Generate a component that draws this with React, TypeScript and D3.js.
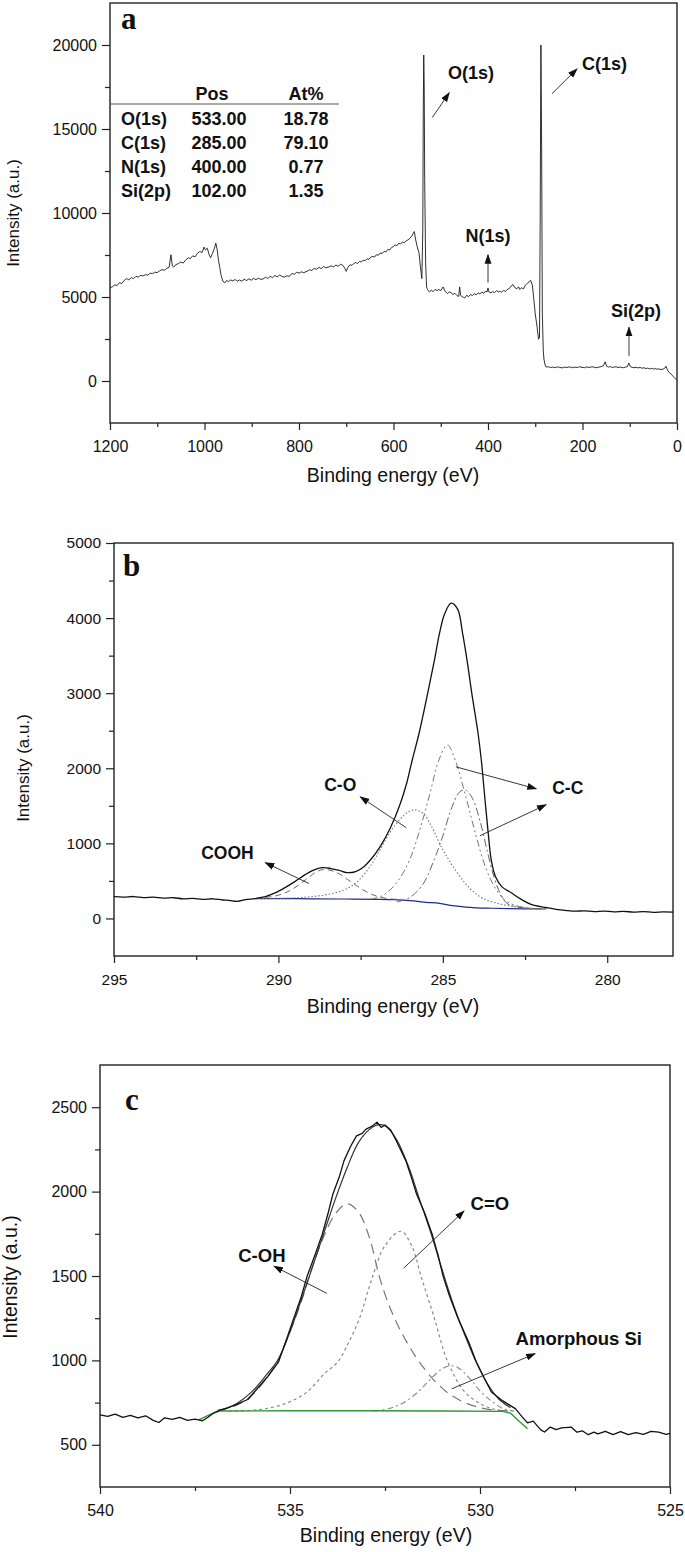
import { useRef, useEffect } from "react";
import * as d3 from "d3";

type Pt = [number, number];

// ---- panel a: survey spectrum (binding energy eV, intensity) ----
const surveyA: Pt[] = [
  [1200, 5540], [1195, 5610], [1190, 5720], [1185, 5680], [1180, 5850], [1175, 5800], [1170, 5990],
  [1165, 6095], [1160, 6020], [1155, 6150], [1150, 6090], [1145, 6230], [1140, 6180], [1135, 6290],
  [1130, 6250], [1125, 6330], [1120, 6300], [1115, 6420], [1110, 6390], [1105, 6480], [1100, 6450],
  [1095, 6560], [1090, 6627], [1085, 6590], [1080, 6700], [1075, 6760], [1071, 7515], [1068, 6850],
  [1065, 6780], [1061, 6923], [1055, 6990], [1050, 7080], [1045, 7020], [1040, 7200], [1034, 7337],
  [1030, 7280], [1025, 7450], [1020, 7390], [1015, 7600], [1010, 7700], [1005, 7650], [1001, 7970],
  [998, 7800], [994, 7900], [990, 7500], [987, 7337], [983, 7600], [979, 7900], [976, 8205],
  [973, 7800], [970, 7100], [968, 6822], [965, 6300], [961, 5936], [957, 5850], [953, 5990],
  [949, 5900], [945, 6020], [940, 5950], [935, 6050], [931, 5936], [926, 6010], [921, 5940],
  [916, 6060], [911, 5980], [906, 6080], [901, 6000], [896, 6110], [891, 6030], [886, 6120],
  [881, 6050], [876, 6075], [871, 6180], [866, 6100], [861, 6230], [856, 6150], [851, 6280],
  [846, 6200], [841, 6310], [836, 6220], [831, 6180], [826, 6260], [820, 6231], [815, 6400],
  [810, 6350], [805, 6470], [800, 6420], [795, 6500], [790, 6450], [783, 6527], [778, 6620],
  [773, 6580], [768, 6700], [763, 6650], [758, 6760], [753, 6690], [748, 6820], [743, 6740],
  [737, 6787], [732, 6860], [727, 6790], [722, 6900], [717, 6830], [712, 6950], [707, 6880],
  [703, 6700], [700, 6527], [697, 6750], [692, 6923], [688, 6880], [684, 7000], [680, 7050],
  [676, 6990], [672, 7120], [668, 7080], [664, 7200], [660, 7160], [656, 7280], [652, 7240],
  [648, 7380], [644, 7416], [640, 7380], [636, 7520], [632, 7480], [628, 7620], [624, 7580],
  [620, 7720], [616, 7680], [612, 7830], [608, 7800], [604, 7950], [600, 8000], [597, 8107],
  [593, 8050], [589, 8200], [585, 8150], [581, 8280], [577, 8230], [573, 8350], [569, 8403],
  [565, 8500], [561, 8650], [558, 8800], [556, 8895], [553, 8400], [550, 8000], [546, 7633],
  [543, 6800], [540, 6095], [538, 9000], [537, 16000], [536, 19400], [535, 17500], [534, 12000],
  [532, 7000], [530, 5600], [528, 5444], [524, 5300], [520, 5400], [516, 5320], [512, 5450],
  [508, 5380], [504, 5444], [500, 5380], [495, 5600], [491, 5350], [486, 5207], [482, 5300],
  [478, 5250], [474, 5150], [470, 5220], [466, 5100], [462, 5030], [460, 5600], [458, 5100],
  [455, 5030], [452, 4980], [449, 4950], [445, 5100], [441, 5020], [437, 5150], [433, 5080],
  [429, 5200], [425, 5130], [421, 5246], [417, 5180], [413, 5300], [409, 5220], [405, 5350],
  [402, 5300], [400, 5540], [398, 5300], [394, 5250], [390, 5320], [386, 5260], [382, 5380],
  [378, 5300], [375, 5345], [371, 5280], [367, 5400], [363, 5330], [359, 5450], [355, 5500],
  [351, 5650], [347, 5740], [343, 5550], [339, 5500], [335, 5600], [333, 5444], [329, 5550],
  [325, 5480], [321, 5700], [317, 5800], [313, 5900], [310, 5996], [306, 5700], [303, 4852],
  [300, 4000], [296, 3200], [293, 2485], [291, 2600], [289.5, 10000], [288, 20000], [286.5, 14000],
  [285, 4000], [283, 1800], [281.6, 1302], [279, 950], [277, 828], [272, 850], [268, 800],
  [263, 830], [258, 790], [253, 840], [248, 810], [243, 780], [238, 830], [233, 800], [228, 840],
  [226, 828], [221, 790], [216, 830], [211, 800], [206, 850], [201, 810], [196, 790], [191, 840],
  [186, 800], [180, 850], [175, 820], [170, 790], [165, 830], [160, 860], [156, 900], [152, 1142],
  [149, 880], [145, 830], [141, 860], [137, 800], [133, 828], [129, 850], [125, 800], [121, 830],
  [117, 810], [113, 790], [109, 830], [105, 850], [102, 1065], [99, 860], [95, 810], [91, 790],
  [87, 820], [83, 780], [78, 805], [74, 760], [70, 790], [66, 740], [62, 770], [58, 720],
  [54, 750], [50, 710], [46, 740], [42, 700], [38, 720], [34, 680], [30, 700], [26, 760],
  [23.4, 880], [20, 650], [16.6, 513], [12, 400], [8, 260], [4, 150], [0, 60],
];

const tableNames = ["O(1s)", "C(1s)", "N(1s)", "Si(2p)"];
const tablePos = ["533.00", "285.00", "400.00", "102.00"];
const tableAt = ["18.78", "79.10", "0.77", "1.35"];

// label, text anchor point, arrow start, arrow end (data units)
const labelsA = [
  { text: "O(1s)", anchor: "start", at: [484.7, 17990], from: [518, 15680], to: [482, 17160] },
  { text: "C(1s)", anchor: "start", at: [201, 18520], from: [264.6, 17100], to: [211.6, 18580] },
  { text: "N(1s)", anchor: "middle", at: [400, 8284], from: [400, 5860], to: [400, 7515] },
  { text: "Si(2p)", anchor: "middle", at: [86.8, 3787], from: [101.6, 1480], to: [101.6, 3195] },
];

// ---- panel b: C1s ----
const rawB: Pt[] = [
  [295, 290], [294.7, 285], [294.4, 292], [294.1, 278], [293.8, 284], [293.5, 270], [293.2, 276],
  [292.9, 262], [292.6, 268], [292.3, 255], [292, 262], [291.7, 246], [291.5, 240], [291.25, 228],
  [291, 250], [290.7, 265], [290.4, 290], [290.1, 340], [289.8, 410], [289.5, 490], [289.2, 580],
  [288.95, 640], [288.67, 677], [288.4, 665], [288.15, 640], [287.92, 610], [287.65, 625],
  [287.4, 690], [287.19, 785], [286.9, 960], [286.6, 1200], [286.3, 1520], [286.1, 1800],
  [285.93, 2110], [285.72, 2470], [285.46, 3000], [285.25, 3450], [285.1, 3800], [284.95, 4050],
  [284.75, 4200], [284.55, 4120], [284.4, 3800], [284.25, 3400], [284.12, 3000], [283.93, 2470],
  [283.83, 2110], [283.7, 1500], [283.6, 1050], [283.53, 785], [283.4, 560], [283.2, 420],
  [282.93, 345], [282.6, 250], [282.3, 185], [281.86, 146], [281.5, 118], [281.2, 105], [281, 97],
  [280.7, 102], [280.4, 92], [280.1, 98], [279.8, 88], [279.5, 95], [279.2, 84], [278.9, 91],
  [278.6, 82], [278.3, 88], [278, 84],
];
const bgB: Pt[] = [
  [290.7, 265], [290, 264], [289, 262], [288, 259], [287, 255], [286.5, 250], [286, 238],
  [285.5, 215], [285.1, 200], [284.7, 170], [284.3, 150], [284, 142], [283.5, 136], [283, 132],
  [282.5, 128], [281.86, 126],
];
const coohB: Pt[] = [
  [290.7, 266], [290.3, 285], [290, 310], [289.7, 360], [289.4, 440], [289.1, 540], [288.85, 620],
  [288.65, 650], [288.4, 640], [288.15, 595], [287.9, 520], [287.6, 430], [287.3, 350], [287, 295],
  [286.7, 265], [286.4, 255],
];
const coB: Pt[] = [
  [290.7, 265], [290, 268], [289.5, 275], [289, 290], [288.5, 320], [288, 380], [287.6, 490],
  [287.2, 700], [286.9, 920], [286.6, 1150], [286.3, 1320], [286.05, 1420], [285.86, 1447],
  [285.6, 1400], [285.35, 1230], [285, 916], [284.7, 700], [284.33, 474], [284, 330], [283.7, 250],
  [283.4, 208], [283, 170], [282.5, 140], [282, 128],
];
const cc1B: Pt[] = [
  [287.2, 258], [286.9, 290], [286.6, 380], [286.3, 540], [286, 790], [285.7, 1180], [285.4, 1650],
  [285.12, 2110], [284.86, 2310], [284.6, 2080], [284.3, 1620], [284, 1120], [283.7, 680],
  [283.4, 400], [283.1, 240], [282.8, 175], [282.4, 140], [282, 130],
];
const cc2B: Pt[] = [
  [286.4, 220], [286, 280], [285.6, 460], [285.26, 785], [285, 1100], [284.75, 1450], [284.5, 1680],
  [284.32, 1713], [284.1, 1600], [283.87, 1300], [283.65, 900], [283.45, 560], [283.25, 330],
  [283.05, 200], [282.7, 150], [282.3, 135], [282, 130],
];
const labelsB = [
  { text: "COOH", at: [291.55, 797], arrows: [[[289.07, 465], [290.4, 744]]] },
  { text: "C-O", at: [288.12, 1700], arrows: [[[286.11, 1208], [287.51, 1620]]] },
  {
    text: "C-C",
    at: [281.2, 1660],
    arrows: [
      [[284.6, 2019], [282.16, 1726]],
      [[283.87, 1102], [281.86, 1514]],
    ],
  },
];

// ---- panel c: O1s ----
const rawC: Pt[] = [
  [540, 677], [539.8, 668], [539.6, 682], [539.4, 662], [539.2, 675], [539, 660], [538.8, 672],
  [538.6, 645], [538.45, 632], [538.3, 660], [538.1, 650], [537.9, 662], [537.7, 645], [537.5, 652],
  [537.3, 642], [537.15, 665], [537, 690], [536.85, 705], [536.7, 714], [536.4, 740], [536.1, 770],
  [535.94, 813], [535.6, 900], [535.3, 992], [535.1, 1120], [534.9, 1250], [534.7, 1380],
  [534.55, 1498], [534.35, 1620], [534.15, 1748], [534, 1870], [533.87, 1986], [533.7, 2090],
  [533.58, 2182], [533.4, 2270], [533.25, 2330], [533.1, 2345], [533, 2370], [532.9, 2380],
  [532.8, 2395], [532.71, 2411], [532.6, 2380], [532.5, 2395], [532.35, 2365], [532.2, 2300],
  [531.95, 2182], [531.8, 2080], [531.67, 1986], [531.45, 1870], [531.26, 1748], [531.1, 1620],
  [530.97, 1498], [530.8, 1380], [530.58, 1250], [530.3, 1110], [530.1, 992], [529.9, 900],
  [529.7, 813], [529.4, 760], [529.07, 714], [528.9, 668], [528.75, 630], [528.6, 640],
  [528.4, 588], [528.3, 576], [528.15, 605], [528, 590], [527.85, 600], [527.6, 605], [527.45, 575],
  [527.3, 582], [527.15, 560], [527, 575], [526.9, 565], [526.7, 580], [526.5, 560], [526.3, 578],
  [526.1, 560], [525.9, 572], [525.7, 562], [525.5, 580], [525.3, 575], [525.1, 562], [525, 568],
];
const fitC: Pt[] = [
  [536.8, 705], [536.4, 745], [536, 815], [535.6, 920], [535.3, 1010], [535, 1170], [534.7, 1360],
  [534.4, 1560], [534.1, 1760], [533.8, 1960], [533.5, 2140], [533.2, 2290], [532.9, 2370],
  [532.7, 2395], [532.5, 2390], [532.2, 2310], [531.9, 2160], [531.6, 1960], [531.3, 1760],
  [531, 1540], [530.7, 1330], [530.4, 1150], [530.1, 990], [529.8, 860], [529.5, 770], [529.2, 720],
];
const bgC: Pt[] = [
  [537.4, 648], [537.1, 680], [536.85, 700], [535, 702], [533, 702], [531, 700], [529.4, 698],
  [529.2, 688], [529, 645], [528.75, 595],
];
const cohC: Pt[] = [
  [536.9, 705], [536.4, 735], [536, 795], [535.6, 900], [535.3, 1010], [535, 1170], [534.7, 1350],
  [534.4, 1560], [534.1, 1740], [533.8, 1870], [533.5, 1928], [533.2, 1880], [532.9, 1720],
  [532.65, 1498], [532.4, 1330], [532.1, 1180], [531.8, 1060], [531.6, 992], [531.2, 880],
  [530.8, 800], [530.4, 750], [530, 720], [529.6, 705], [529.2, 700],
];
const coC: Pt[] = [
  [536.6, 700], [536, 704], [535.5, 720], [535, 755], [534.55, 813], [534.1, 920], [533.74, 992],
  [533.45, 1110], [533.17, 1250], [532.85, 1480], [532.5, 1680], [532.08, 1765], [531.8, 1680],
  [531.55, 1498], [531.2, 1250], [530.85, 992], [530.4, 813], [530, 745], [529.7, 715], [529.4, 700],
];
const siC: Pt[] = [
  [532.8, 700], [532.4, 715], [532, 750], [531.6, 820], [531.3, 890], [531, 950], [530.8, 968],
  [530.6, 960], [530.3, 900], [530, 820], [529.7, 760], [529.4, 715], [529.1, 700],
];
const labelsC = [
  { text: "C-OH", at: [535.74, 1581], arrows: [[[534.03, 1397], [535.42, 1558]]] },
  { text: "C=O", at: [529.74, 1891], arrows: [[[532.01, 1546], [530.42, 1885]]] },
  { text: "Amorphous Si", at: [527.4, 1093], arrows: [[[530.74, 832], [528.55, 1040]]] },
];

const SANS = "'Liberation Sans', Arial, sans-serif";
const SERIF = "'Liberation Serif', 'Times New Roman', serif";

type Box = { l: number; r: number; t: number; b: number };

function makePanel(
  svg: d3.Selection<SVGSVGElement, unknown, null, undefined>,
  box: Box,
  xDom: [number, number],
  yDom: [number, number],
  xMajor: number[],
  xMinor: number[],
  yMajor: number[],
  yMinor: number[],
  tickFont: number
) {
  const x = d3.scaleLinear().domain(xDom).range([box.l, box.r]);
  const y = d3.scaleLinear().domain(yDom).range([box.b, box.t]);
  const g = svg.append("g");

  const style = (sel: d3.Selection<SVGGElement, unknown, null, undefined>) => {
    sel.select(".domain").remove();
    sel.selectAll("line").attr("stroke", "#222").attr("stroke-width", 1.2);
    sel.selectAll("text").attr("font-family", SANS).attr("font-size", tickFont).attr("fill", "#111");
  };

  g.append("g")
    .attr("transform", `translate(0,${box.b})`)
    .call(d3.axisBottom(x).tickValues(xMinor).tickSize(4).tickFormat(() => ""))
    .call(style);
  g.append("g")
    .attr("transform", `translate(0,${box.b})`)
    .call(d3.axisBottom(x).tickValues(xMajor).tickSize(7).tickPadding(11).tickFormat(d3.format("d")))
    .call(style);
  g.append("g")
    .attr("transform", `translate(${box.l},0)`)
    .call(d3.axisLeft(y).tickValues(yMinor).tickSize(5).tickFormat(() => ""))
    .call(style);
  g.append("g")
    .attr("transform", `translate(${box.l},0)`)
    .call(d3.axisLeft(y).tickValues(yMajor).tickSize(8).tickPadding(5).tickFormat(d3.format("d")))
    .call(style);

  g.append("rect")
    .attr("x", box.l)
    .attr("y", box.t)
    .attr("width", box.r - box.l)
    .attr("height", box.b - box.t)
    .attr("fill", "none")
    .attr("stroke", "#222")
    .attr("stroke-width", 1.4);

  const plot = g.append("g");
  return { x, y, g, plot };
}

export default function App() {
  const svgRef = useRef<SVGSVGElement>(null);

  useEffect(() => {
    const svg = d3.select(svgRef.current as SVGSVGElement);
    svg.selectAll("*").remove();

    const defs = svg.append("defs");
    defs
      .append("marker")
      .attr("id", "arr")
      .attr("viewBox", "0 0 10 8")
      .attr("refX", 9)
      .attr("refY", 4)
      .attr("markerWidth", 10)
      .attr("markerHeight", 8)
      .attr("markerUnits", "userSpaceOnUse")
      .attr("orient", "auto")
      .append("path")
      .attr("d", "M0,0.5 L10,4 L0,7.5 Z")
      .attr("fill", "#111");

    const addLine = (
      p: { x: d3.ScaleLinear<number, number>; y: d3.ScaleLinear<number, number>; plot: any },
      data: Pt[],
      stroke: string,
      width: number,
      dash: string | null,
      curve: d3.CurveFactory
    ) => {
      const line = d3
        .line<Pt>()
        .x((d) => p.x(d[0]))
        .y((d) => p.y(d[1]))
        .curve(curve);
      p.plot
        .append("path")
        .datum(data)
        .attr("d", line)
        .attr("fill", "none")
        .attr("stroke", stroke)
        .attr("stroke-width", width)
        .attr("stroke-dasharray", dash)
        .attr("stroke-linejoin", "round");
    };

    const addArrow = (p: any, from: number[], to: number[]) => {
      p.plot
        .append("line")
        .attr("x1", p.x(from[0]))
        .attr("y1", p.y(from[1]))
        .attr("x2", p.x(to[0]))
        .attr("y2", p.y(to[1]))
        .attr("stroke", "#222")
        .attr("stroke-width", 0.9)
        .attr("marker-end", "url(#arr)");
    };

    const addText = (
      p: any,
      text: string,
      at: number[],
      anchor: string,
      size: number
    ) => {
      p.plot
        .append("text")
        .attr("x", p.x(at[0]))
        .attr("y", p.y(at[1]))
        .attr("text-anchor", anchor)
        .attr("font-family", SANS)
        .attr("font-weight", "bold")
        .attr("font-size", size)
        .attr("fill", "#111")
        .text(text);
    };

    const axisTitles = (box: Box, xTitle: number[], yTitle: number[], ySize: number) => {
      svg
        .append("text")
        .attr("x", xTitle[0])
        .attr("y", box.b + xTitle[1])
        .attr("text-anchor", "middle")
        .attr("font-family", SANS)
        .attr("font-size", 19.5)
        .attr("fill", "#111")
        .text("Binding energy (eV)");
      svg
        .append("text")
        .attr("transform", `translate(${box.l + yTitle[0]},${yTitle[1]}) rotate(-90)`)
        .attr("text-anchor", "middle")
        .attr("font-family", SANS)
        .attr("font-size", ySize)
        .attr("fill", "#111")
        .text("Intensity (a.u.)");
    };

    const panelLetter = (box: Box, letter: string, dx: number, dy: number) => {
      svg
        .append("text")
        .attr("x", box.l + dx)
        .attr("y", box.t + dy)
        .attr("font-family", SERIF)
        .attr("font-weight", "bold")
        .attr("font-size", 31)
        .attr("fill", "#111")
        .text(letter);
    };

    // ---------------- panel a ----------------
    const boxA: Box = { l: 110, r: 677, t: 3, b: 423 };
    const pa = makePanel(
      svg,
      boxA,
      [1200, 0],
      [-2500, 22500],
      d3.range(0, 1201, 200),
      d3.range(100, 1200, 200),
      d3.range(0, 20001, 5000),
      d3.range(2500, 20000, 5000),
      16
    );
    addLine(pa, surveyA, "#1a1a1a", 0.9, null, d3.curveLinear);
    labelsA.forEach((l) => {
      addArrow(pa, l.from, l.to);
      addText(pa, l.text, l.at, l.anchor, 18);
    });

    // composition table
    const tbl = svg.append("g").attr("font-family", SANS).attr("font-weight", "bold").attr("fill", "#111");
    tbl.append("text").attr("x", boxA.l + 102).attr("y", boxA.t + 97).attr("text-anchor", "middle").attr("font-size", 18).text("Pos");
    tbl.append("text").attr("x", boxA.l + 196).attr("y", boxA.t + 97).attr("text-anchor", "middle").attr("font-size", 18).text("At%");
    tbl
      .append("line")
      .attr("x1", boxA.l)
      .attr("x2", boxA.l + 229)
      .attr("y1", boxA.t + 101)
      .attr("y2", boxA.t + 101)
      .attr("stroke", "#555")
      .attr("stroke-width", 1);
    tableNames.forEach((n, i) => {
      const yy = boxA.t + 122 + i * 24;
      tbl.append("text").attr("x", boxA.l + 11).attr("y", yy).attr("font-size", 18).text(n);
      tbl.append("text").attr("x", boxA.l + 109).attr("y", yy).attr("text-anchor", "middle").attr("font-size", 18).text(tablePos[i]);
      tbl.append("text").attr("x", boxA.l + 196).attr("y", yy).attr("text-anchor", "middle").attr("font-size", 18).text(tableAt[i]);
    });
    axisTitles(boxA, [393, 59], [-91, 213], 17);
    panelLetter(boxA, "a", 11, 26);

    // ---------------- panel b ----------------
    const boxB: Box = { l: 114, r: 673, t: 543, b: 956 };
    const pb = makePanel(
      svg,
      boxB,
      [295, 278],
      [-500, 5000],
      [295, 290, 285, 280],
      [292.5, 287.5, 282.5],
      d3.range(0, 5001, 1000),
      d3.range(500, 5000, 1000),
      15.5
    );
    addLine(pb, bgB, "#1f2a8c", 1.2, null, d3.curveMonotoneX);
    addLine(pb, coohB, "#666", 1, "6,4", d3.curveCatmullRom);
    addLine(pb, coB, "#777", 1.1, "1.5,2", d3.curveCatmullRom);
    addLine(pb, cc1B, "#777", 1, "7,3,2,3,2,3", d3.curveCatmullRom);
    addLine(pb, cc2B, "#666", 1, "8,3,2,3", d3.curveCatmullRom);
    addLine(pb, rawB, "#111", 1.3, null, d3.curveCatmullRom);
    labelsB.forEach((l) => {
      l.arrows.forEach((a) => addArrow(pb, a[0], a[1]));
      addText(pb, l.text, l.at, "middle", 17.5);
    });
    axisTitles(boxB, [393, 57], [-85, 768], 17);
    panelLetter(boxB, "b", 9, 33);

    // ---------------- panel c ----------------
    const boxC: Box = { l: 100, r: 670, t: 1065, b: 1487 };
    const pc = makePanel(
      svg,
      boxC,
      [540, 525],
      [250, 2750],
      [540, 535, 530, 525],
      [537.5, 532.5, 527.5],
      d3.range(500, 2501, 500),
      d3.range(750, 2500, 500),
      16
    );
    addLine(pc, cohC, "#777", 1.2, "10,6", d3.curveCatmullRom);
    addLine(pc, coC, "#888", 1.2, "3,3", d3.curveCatmullRom);
    addLine(pc, siC, "#888", 1.1, "6,3,2,3", d3.curveCatmullRom);
    addLine(pc, bgC, "#2e9a2e", 1.4, null, d3.curveLinear);
    addLine(pc, fitC, "#333", 1.2, null, d3.curveCatmullRom);
    addLine(pc, rawC, "#111", 1.3, null, d3.curveLinear);
    labelsC.forEach((l) => {
      l.arrows.forEach((a) => addArrow(pc, a[0], a[1]));
      addText(pc, l.text, l.at, "middle", 18.5);
    });
    axisTitles(boxC, [386, 55], [-83, 1277], 19.5);
    panelLetter(boxC, "c", 25, 45);
  }, []);

  return (
    <svg
      ref={svgRef}
      width={685}
      height={1552}
      style={{ position: "absolute", left: 0, top: 0, background: "#fff" }}
    />
  );
}
